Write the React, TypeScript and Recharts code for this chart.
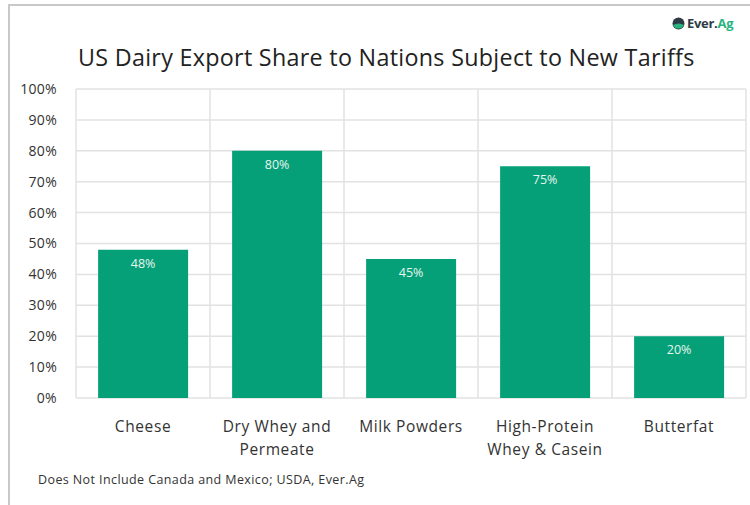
import { BarChart, Bar, XAxis, YAxis, CartesianGrid, LabelList } from 'recharts';

const categories = ['Cheese', 'Dry Whey and Permeate', 'Milk Powders', 'High-Protein Whey & Casein', 'Butterfat'];
const tickLines = [['Cheese'], ['Dry Whey and', 'Permeate'], ['Milk Powders'], ['High-Protein', 'Whey & Casein'], ['Butterfat']];
const shares = [48, 80, 45, 75, 20];
const yTicks = [0, 10, 20, 30, 40, 50, 60, 70, 80, 90, 100];

const data = categories.map((name, i) => ({ name, share: shares[i] }));

const FONT = '"Open Sans", "Noto Sans", sans-serif';
const GREEN = '#05a078';

const CategoryTick = (props: any) => {
  const { x, y, payload } = props;
  const lines = tickLines[payload.index] ?? [payload.value];
  return (
    <g transform={`translate(${x},${y})`}>
      {lines.map((line: string, i: number) => (
        <text key={i} x={0} y={26 + i * 23} textAnchor="middle" fill="#333" fontSize={15.5} letterSpacing={0.6} fontFamily={FONT}>
          {line}
        </text>
      ))}
    </g>
  );
};

// vertical grid sits on the band edges, not the band centres
const bandEdges = ({ offset }: any) =>
  categories.map((_, i) => offset.left + (i * offset.width) / categories.length).concat(offset.left + offset.width);

export default function App() {
  return (
    <div style={{ position: 'absolute', left: 0, top: 0, width: 750, height: 505, background: '#fff', fontFamily: FONT }}>
      <div style={{ position: 'absolute', left: 8, top: 4, width: 742, height: 499, borderTop: '2px solid #c8c8c8', borderLeft: '2px solid #c8c8c8', borderBottom: '1px solid #e4e4e4' }} />
      <div style={{ position: 'absolute', left: 672, top: 14, display: 'flex', alignItems: 'center', fontWeight: 700, fontSize: 13, letterSpacing: -0.3 }}>
        <svg width={13} height={13} style={{ marginRight: 2 }}>
          <circle cx={6.5} cy={6.5} r={6} fill="#2d3b45" />
          <path d="M1 8 Q6.5 5 12 8 A6 6 0 0 1 1 8 Z" fill="#2bb37f" />
        </svg>
        <span style={{ color: '#2d3b45' }}>Ever.</span>
        <span style={{ color: '#2bb37f' }}>Ag</span>
      </div>
      <div style={{ position: 'absolute', left: 78, top: 41, fontSize: 23.3, letterSpacing: 0.3, color: '#222', whiteSpace: 'nowrap' }}>
        US Dairy Export Share to Nations Subject to New Tariffs
      </div>
      <div style={{ position: 'absolute', left: 38, top: 471, fontSize: 12.5, letterSpacing: 0.4, color: '#333' }}>
        Does Not Include Canada and Mexico; USDA, Ever.Ag
      </div>
      <div style={{ position: 'absolute', left: 0, top: 0 }}>
        <BarChart width={750} height={505} data={data} margin={{ top: 89, right: 4, bottom: 0, left: 16 }} barCategoryGap="16.5%">
          <CartesianGrid stroke="#e2e2e2" strokeWidth={1.5} verticalCoordinatesGenerator={bandEdges} />
          <XAxis dataKey="name" axisLine={false} tickLine={false} tick={<CategoryTick />} interval={0} height={107} />
          <YAxis
            domain={[0, 100]}
            ticks={yTicks}
            interval={0}
            tickFormatter={(v: number) => `${v}%`}
            axisLine={false}
            tickLine={false}
            tickSize={0}
            tickMargin={19}
            width={60}
            tick={{ fill: '#333', fontSize: 14, letterSpacing: 0.3, fontFamily: FONT }}
          />
          <Bar dataKey="share" fill={GREEN} isAnimationActive={false}>
            <LabelList
              dataKey="share"
              position="insideTop"
              offset={9}
              formatter={(v: any) => `${v}%`}
              fill="#e6f5ee"
              fontSize={12.5}
              fontFamily={FONT}
            />
          </Bar>
        </BarChart>
      </div>
    </div>
  );
}
